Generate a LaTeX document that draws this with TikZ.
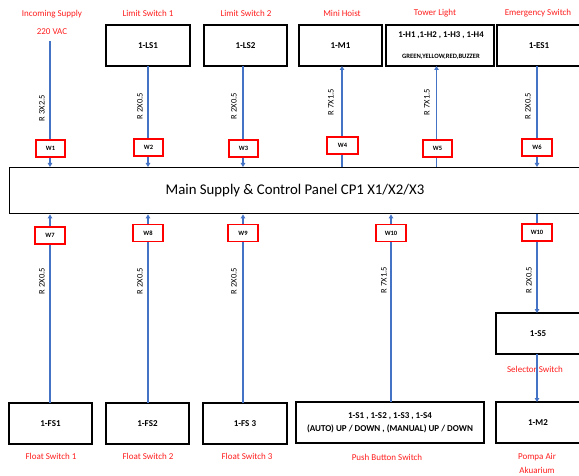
\documentclass[tikz,border=0pt]{standalone}
\usepackage{fontspec}
\setmainfont{Carlito}
\usetikzlibrary{arrows.meta}
\definecolor{wireblue}{RGB}{68,114,196}
\definecolor{lblred}{RGB}{255,30,30}
\tikzset{
  wire/.style={draw=wireblue, line width=1.3pt},
  tip/.style={-{Triangle[length=4pt,width=4.5pt]}},
  dev/.style={draw=black, line width=1.4pt, fill=white, inner sep=0pt, minimum height=41pt, font=\bfseries\fontsize{9}{10}\selectfont, align=center},
  wbox/.style={draw=red, line width=1.3pt, fill=white, inner sep=0pt, minimum width=29pt, minimum height=17pt, font=\bfseries\fontsize{6.5}{7}\selectfont},
  lbl/.style={text=lblred, font=\fontsize{9}{10}\selectfont, inner sep=0pt},
  cab/.style={rotate=90, font=\fontsize{8.5}{9}\selectfont, inner sep=0pt},
}
\begin{document}
\begin{tikzpicture}[x=1pt,y=-1pt]
\useasboundingbox[fill=white] (0,0) rectangle (579,476);
% main panel
\node[draw=black, line width=1.4pt, fill=white, inner sep=0pt, minimum width=574pt, minimum height=46pt, anchor=north west] (panel) at (9,167) {};
\node[font=\fontsize{14.8}{16}\selectfont, inner sep=0pt] (ptext) at (295,191) {Main Supply \& Control Panel CP1 X1/X2/X3};
% top labels
\node[lbl] (l1a) at (52,14) {Incoming Supply};
\node[lbl] (l1b) at (52,32) {220 VAC};
\node[lbl] (l2) at (148,13) {Limit Switch 1};
\node[lbl] (l3) at (246,13) {Limit Switch 2};
\node[lbl] (l4) at (342,13) {Mini Hoist};
\node[lbl] (l5) at (435,13) {Tower Light};
\node[lbl] (l6) at (538,13) {Emergency Switch};
% top devices
\coordinate (in1) at (50,41);
\node[dev, minimum width=84pt] (ls1) at (148,45.5) {1-LS1};
\node[dev, minimum width=83pt] (ls2) at (245.5,45.5) {1-LS2};
\node[dev, minimum width=83pt] (m1) at (340.5,45.5) {1-M1};
\node[dev, minimum width=108pt] (tl) at (440,45.5) {};
\node[font=\bfseries\fontsize{8.8}{9}\selectfont, inner sep=0pt] (tla) at (441,35) {1-H1 ,1-H2 , 1-H3 , 1-H4};
\node[font=\bfseries\fontsize{6.6}{7}\selectfont, inner sep=0pt] (tlb) at (441,57) {GREEN,YELLOW,RED,BUZZER};
\node[dev, minimum width=84pt] (es1) at (539,45.5) {1-ES1};
% top coordinates of columns
\coordinate (c2) at (148,66);
\coordinate (c3) at (243,66);
\coordinate (c4) at (342,66);
\coordinate (c5) at (436.5,66);
\coordinate (c6) at (537,66);
% top wires
\draw[wire,tip] (in1) -- (in1 |- panel.north);
\draw[wire,tip] (c2) -- (c2 |- panel.north);
\draw[wire,tip] (c3) -- (c3 |- panel.north);
\draw[wire,tip] (c4 |- panel.north) -- (c4);
\draw[wire,tip] (c5 |- panel.north) -- (c5);
\draw[wire,tip] (c6) -- (c6 |- panel.north);
% top cable labels
\node[cab] (r1) at (42,108) {R 3X2.5};
\node[cab] (r2) at (140,106) {R 2X0.5};
\node[cab] (r3) at (234,106) {R 2X0.5};
\node[cab] (r4) at (331,102) {R 7X1.5};
\node[cab] (r5) at (427,102) {R 7X1.5};
\node[cab] (r6) at (528,106) {R 2X0.5};
% top W boxes
\node[wbox] (w1) at (50.5,148.5) {W1};
\node[wbox] (w2) at (148.5,147.5) {W2};
\node[wbox] (w3) at (243.5,148.5) {W3};
\node[wbox, minimum width=31pt] (w4) at (342.5,145.5) {W4};
\node[wbox] (w5) at (437.5,148.5) {W5};
\node[wbox, minimum width=30pt] (w6) at (537,147.5) {W6};
% bottom devices
\node[dev, minimum width=83pt] (fs1) at (50.5,423.5) {1-FS1};
\node[dev, minimum width=83pt] (fs2) at (147.5,423.5) {1-FS2};
\node[dev, minimum width=84pt] (fs3) at (245,423.5) {1-FS 3};
\node[dev, minimum width=188pt, font=\bfseries\fontsize{9}{12.5}\selectfont] (pb) at (390,422.5) {1-S1 , 1-S2 , 1-S3 , 1-S4\\(AUTO) UP / DOWN , (MANUAL) UP / DOWN};
\node[dev, minimum width=84pt] (s5) at (538,333.5) {1-S5};
\node[dev, minimum width=84pt] (m2) at (538,422.5) {1-M2};
% bottom labels
\node[lbl] (b1) at (51,456) {Float Switch 1};
\node[lbl] (b2) at (148,456) {Float Switch 2};
\node[lbl] (b3) at (247,456) {Float Switch 3};
\node[lbl] (b4) at (387,457) {Push Button Switch};
\node[lbl] (b5) at (535,369) {Selector Switch};
\node[lbl] (b6a) at (537,457) {Pompa Air};
\node[lbl] (b6b) at (537,470) {Akuarium};
% bottom column coordinates
\coordinate (d1) at (50,403);
\coordinate (d2) at (148,403);
\coordinate (d3) at (243,403);
\coordinate (d4) at (391,402);
\coordinate (d6) at (537,313);
\coordinate (e6) at (537,354);
\coordinate (f6) at (537,402);
% bottom wires
\draw[wire,tip] (d1) -- (d1 |- panel.south);
\draw[wire,tip] (d2) -- (d2 |- panel.south);
\draw[wire,tip] (d3) -- (d3 |- panel.south);
\draw[wire,tip] (d4) -- (d4 |- panel.south);
\draw[wire,tip] (d6 |- panel.south) -- (d6);
\draw[wire,tip] (e6) -- (f6);
% bottom cable labels
\node[cab] (r7) at (42,281) {R 2X0.5};
\node[cab] (r8) at (140,281) {R 2X0.5};
\node[cab] (r9) at (234,281) {R 2X0.5};
\node[cab] (r10) at (384,280) {R 7X1.5};
\node[cab] (r11) at (529,280) {R 2X0.5};
% bottom W boxes
\node[wbox, minimum width=30pt] (w7) at (50,235.5) {W7};
\node[wbox, minimum width=30pt] (w8) at (148,233) {W8};
\node[wbox, minimum width=30pt] (w9) at (243,233) {W9};
\node[wbox, minimum width=30pt] (w10a) at (391,233) {W10};
\node[wbox, minimum width=30pt] (w10b) at (537,232.5) {W10};
\end{tikzpicture}
\end{document}
